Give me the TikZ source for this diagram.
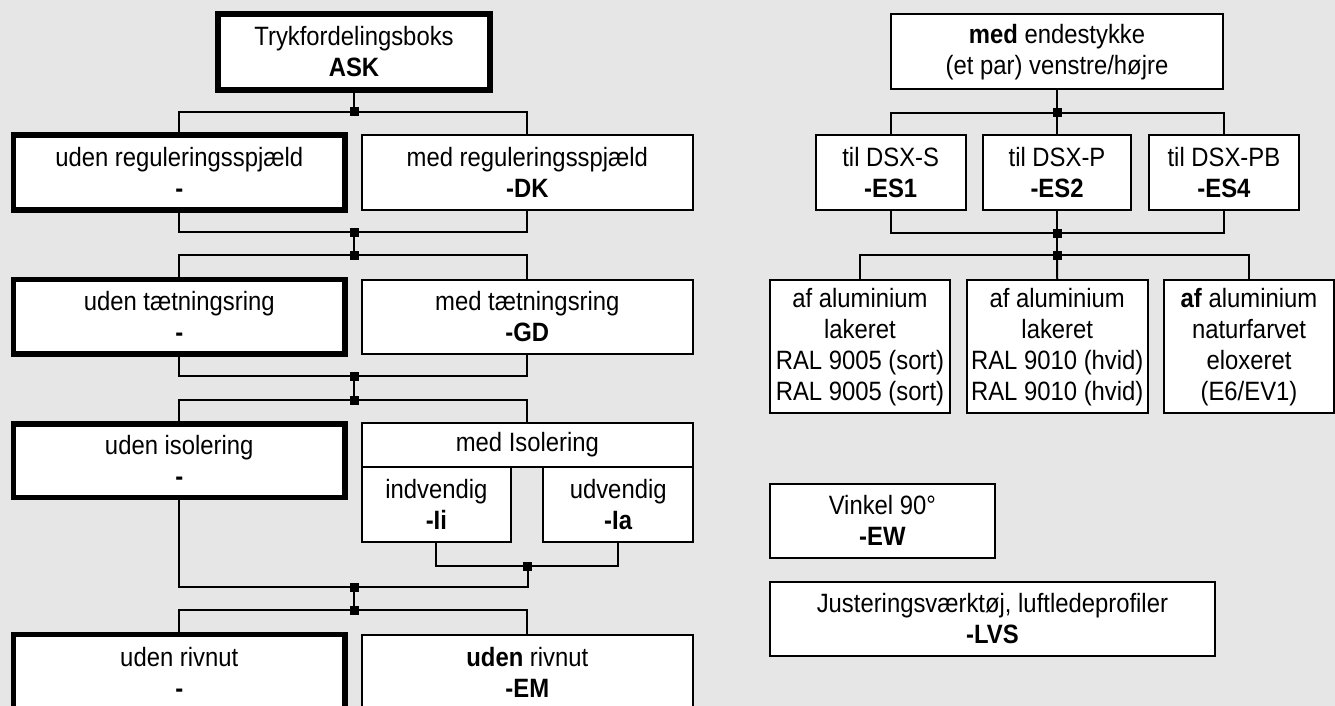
\documentclass[tikz,border=0pt]{standalone}
\usepackage{fontspec}
\setmainfont[FakeStretch=0.9]{Liberation Sans}
\definecolor{bggray}{RGB}{230,230,230}
\begin{document}
\begin{tikzpicture}[x=1pt,y=-1pt,
  every node/.style={font=\fontsize{26.5}{31}\selectfont, align=center, inner sep=0pt, outer sep=0pt},
  thinbox/.style={draw=black, line width=2pt, fill=white, rectangle},
  thickbox/.style={draw=black, line width=5.5pt, fill=white, rectangle},
  conn/.style={draw=black, line width=2pt},
  junc/.style={fill=black, rectangle, minimum size=9pt, inner sep=0pt}]
\useasboundingbox (0,0) rectangle (1335,706);
\clip (0,0) rectangle (1335,706);
\fill[bggray] (0,0) rectangle (1335,706);

% ---------- left tree ----------
\coordinate (c1) at (354,112);
\coordinate (c2) at (354,232);
\coordinate (c3) at (354,255);
\coordinate (c4) at (354,376);
\coordinate (c5) at (354,400);
\coordinate (c6) at (527.7,566);
\coordinate (c7) at (354,587);
\coordinate (c8) at (354,610);

\node[thickbox, minimum width=272pt, minimum height=76pt] (ask) at (354,52) {Trykfordelingsboks\\\textbf{ASK}};
\node[thickbox, minimum width=331.5pt, minimum height=75pt] (r1l) at (179.25,172.5) {uden reguleringsspjæld\\\textbf{-}};
\node[thinbox, minimum width=331.3pt, minimum height=75pt] (r1r) at (527.35,172.5) {med reguleringsspjæld\\\textbf{-DK}};
\node[thickbox, minimum width=331.5pt, minimum height=74.5pt] (r2l) at (179.25,316.75) {uden tætningsring\\\textbf{-}};
\node[thinbox, minimum width=331.3pt, minimum height=74pt] (r2r) at (527.35,316.75) {med tætningsring\\\textbf{-GD}};
\node[thickbox, minimum width=331.5pt, minimum height=73.5pt] (r3l) at (179.25,460.75) {uden isolering\\\textbf{-}};
\node[thinbox, minimum width=331.3pt, minimum height=44.6pt] (r3r) at (527.35,445) {med Isolering};
\node[thinbox, minimum width=149.3pt, minimum height=74.7pt] (ind) at (436.35,504.65) {indvendig\\\textbf{-Ii}};
\node[thinbox, minimum width=149.6pt, minimum height=74.7pt] (udv) at (618.2,504.65) {udvendig\\\textbf{-Ia}};
\node[thickbox, minimum width=331.5pt, minimum height=75pt] (r4l) at (179.25,672) {uden rivnut\\\textbf{-}};
\node[thinbox, minimum width=331.3pt, minimum height=75pt] (r4r) at (527.35,672) {\textbf{uden} rivnut\\\textbf{-EM}};

\draw[conn] (ask.south) -- (c1);
\draw[conn] (r1l.north) |- (c1) -| (r1r.north);
\draw[conn] (r1l.south) |- (c2) -| (r1r.south);
\draw[conn] (c2) -- (c3);
\draw[conn] (r2l.north) |- (c3) -| (r2r.north);
\draw[conn] (r2l.south) |- (c4) -| (r2r.south);
\draw[conn] (c4) -- (c5);
\draw[conn] (r3l.north) |- (c5) -| (r3r.north);
\draw[conn] (ind.south) |- (c6) -| (udv.south);
\draw[conn] (r3l.south) |- (c7) -| (c6);
\draw[conn] (c7) -- (c8);
\draw[conn] (r4l.north) |- (c8) -| (r4r.north);

\foreach \c in {c1,c2,c3,c4,c5,c6,c7,c8} \node[junc] at (\c) {};

% ---------- right tree ----------
\coordinate (k1) at (1057,112.7);
\coordinate (k2) at (1057,233.3);
\coordinate (k3) at (1057,255);

\node[thinbox, minimum width=331.2pt, minimum height=74.7pt] (mede) at (1057,51.65) {\textbf{med} endestykke\\(et par) venstre/højre};
\node[thinbox, minimum width=149.8pt, minimum height=74.7pt] (ds) at (890.7,172.65) {til DSX-S\\\textbf{-ES1}};
\node[thinbox, minimum width=148.6pt, minimum height=74.7pt] (dp) at (1057,172.65) {til DSX-P\\\textbf{-ES2}};
\node[thinbox, minimum width=149.8pt, minimum height=74.7pt] (dpb) at (1223.9,172.65) {til DSX-PB\\\textbf{-ES4}};
\node[thinbox, minimum width=180.9pt, minimum height=133.3pt] (a1) at (859.95,346.65) {af aluminium\\lakeret\\RAL 9005 (sort)\\RAL 9005 (sort)};
\node[thinbox, minimum width=180.9pt, minimum height=133.3pt] (a2) at (1057.25,346.65) {af aluminium\\lakeret\\RAL 9010 (hvid)\\RAL 9010 (hvid)};
\node[thinbox, minimum width=170pt, minimum height=133.3pt] (a3) at (1249,346.65) {\textbf{af} aluminium\\naturfarvet\\eloxeret\\(E6/EV1)};
\node[thinbox, minimum width=225.7pt, minimum height=74.3pt] (vink) at (882.35,520.85) {Vinkel 90°\\\textbf{-EW}};
\node[thinbox, minimum width=445.8pt, minimum height=74.6pt] (just) at (992.4,619) {Justeringsværktøj, luftledeprofiler\\\textbf{-LVS}};

\draw[conn] (mede.south) -- (k1);
\draw[conn] (ds.north) |- (k1) -| (dpb.north);
\draw[conn] (k1) -- (dp.north);
\draw[conn] (ds.south) |- (k2) -| (dpb.south);
\draw[conn] (dp.south) -- (k2);
\draw[conn] (k2) -- (k3);
\draw[conn] (a1.north) |- (k3) -| (a3.north);
\draw[conn] (k3) -- (a2.north);

\foreach \c in {k1,k2,k3} \node[junc] at (\c) {};
\end{tikzpicture}
\end{document}
